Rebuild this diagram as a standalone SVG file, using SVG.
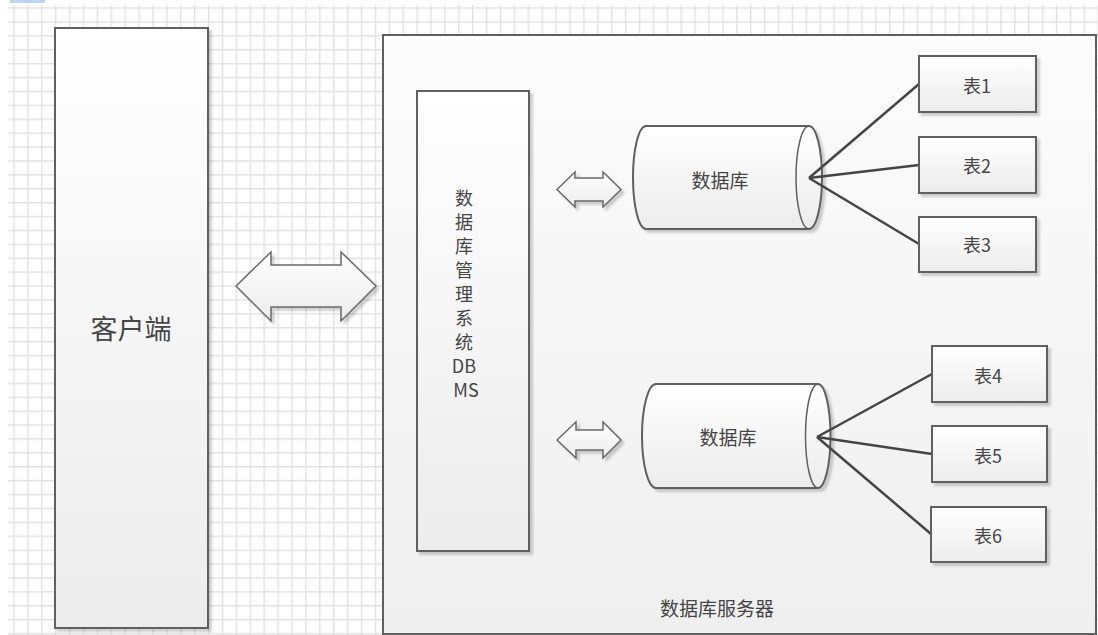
<svg xmlns="http://www.w3.org/2000/svg" width="1098" height="635" viewBox="0 0 1098 635">
<defs>
<pattern id="grid" x="-0.6" y="7.3" width="13.9" height="13.9" patternUnits="userSpaceOnUse">
<path d="M0.7,0 V13.9 M0,0.7 H13.9" stroke="#e2e2e2" stroke-width="1.5" fill="none"/>
</pattern>
<linearGradient id="fillG" x1="0" y1="0" x2="0" y2="1">
<stop offset="0" stop-color="#ffffff"/>
<stop offset="1" stop-color="#ececec"/>
</linearGradient>
<linearGradient id="srvG" x1="0" y1="0" x2="0" y2="1">
<stop offset="0" stop-color="#fcfcfc"/>
<stop offset="1" stop-color="#efefef"/>
</linearGradient>
<filter id="sh" x="-10%" y="-10%" width="130%" height="130%">
<feDropShadow dx="3" dy="3" stdDeviation="1.2" flood-color="#000" flood-opacity="0.18"/>
</filter>
</defs>
<style>
.box{fill:url(#fillG);stroke:#606060;stroke-width:2;filter:url(#sh)}
.arr{fill:url(#fillG);stroke:#6a6a6a;stroke-width:1.5;stroke-linejoin:miter;filter:url(#sh)}
.t{font-family:"Noto Sans CJK SC","Noto Sans",sans-serif;fill:#454545;text-anchor:middle;dominant-baseline:central}
.ln{stroke:#454545;stroke-width:2.5;fill:none}
</style>
<rect x="0" y="0" width="1098" height="635" fill="#ffffff"/>
<rect x="8" y="5" width="1090" height="630" fill="url(#grid)"/>
<rect x="10" y="0" width="35" height="3" fill="#bcd5f3"/>

<g id="client">
<rect class="box" x="55" y="28" width="153" height="600"/>
<text class="t" x="131" y="327" font-size="27">客户端</text>
</g>

<g id="server">
<rect x="383" y="35" width="713" height="599" fill="url(#srvG)" stroke="#606060" stroke-width="2"/>
<text class="t" x="717" y="607" font-size="19">数据库服务器</text>
</g>

<g id="dbms">
<rect class="box" x="417" y="91" width="112" height="460"/>
<text class="t" x="466" font-size="18">
<tspan x="466" y="197">数</tspan>
<tspan x="466" y="221">据</tspan>
<tspan x="466" y="245">库</tspan>
<tspan x="466" y="269">管</tspan>
<tspan x="466" y="293">理</tspan>
<tspan x="466" y="317">系</tspan>
<tspan x="466" y="341">统</tspan>
<tspan x="466" y="365">DB</tspan>
<tspan x="466" y="389">MS</tspan>
</text>
</g>

<g id="arrow-main">
<polygon class="arr" points="236,286 271,252 271,265 341,265 341,252 376,286 341,321 341,307 271,307 271,321"/>
</g>
<g id="arrow-db1">
<polygon class="arr" points="557,189.5 575,172 575,178 603,178 603,172 621,189.5 603,207 603,201 575,201 575,207"/>
</g>
<g id="arrow-db2">
<polygon class="arr" points="557,440 576,422 576,430 603,430 603,422 621,440 603,458 603,450 576,450 576,458"/>
</g>

<g id="db1">
<path class="box" d="M646,126 L809,126 A13,51.5 0 0 1 809,229 L646,229 A13,51.5 0 0 1 646,126 Z"/>
<path d="M809,126 A13,51.5 0 0 0 809,229" fill="none" stroke="#606060" stroke-width="1.5"/>
<text class="t" x="720" y="179" font-size="19">数据库</text>
</g>

<g id="db2">
<path class="box" d="M656,384 L818,384 A12.5,52 0 0 1 818,488 L656,488 A14,52 0 0 1 656,384 Z"/>
<path d="M818,384 A12.5,52 0 0 0 818,488" fill="none" stroke="#606060" stroke-width="1.5"/>
<text class="t" x="728" y="436" font-size="19">数据库</text>
</g>

<g id="connectors">
<line class="ln" x1="809" y1="178" x2="919" y2="84"/>
<line class="ln" x1="809" y1="178" x2="919" y2="165"/>
<line class="ln" x1="809" y1="178" x2="919" y2="244"/>
<line class="ln" x1="817" y1="437" x2="932" y2="374"/>
<line class="ln" x1="817" y1="437" x2="932" y2="454"/>
<line class="ln" x1="817" y1="437" x2="931" y2="534"/>
</g>

<g id="t1"><rect class="box" x="919" y="56" width="117" height="56"/><text class="t" x="977" y="85" font-size="18">表1</text></g>
<g id="t2"><rect class="box" x="919" y="137" width="117" height="56"/><text class="t" x="977" y="165" font-size="18">表2</text></g>
<g id="t3"><rect class="box" x="919" y="217" width="117" height="55"/><text class="t" x="977" y="244" font-size="18">表3</text></g>
<g id="t4"><rect class="box" x="932" y="346" width="115" height="56"/><text class="t" x="988" y="375" font-size="18">表4</text></g>
<g id="t5"><rect class="box" x="932" y="426" width="115" height="56"/><text class="t" x="988" y="455" font-size="18">表5</text></g>
<g id="t6"><rect class="box" x="931" y="507" width="115" height="55"/><text class="t" x="988" y="535" font-size="18">表6</text></g>
</svg>
